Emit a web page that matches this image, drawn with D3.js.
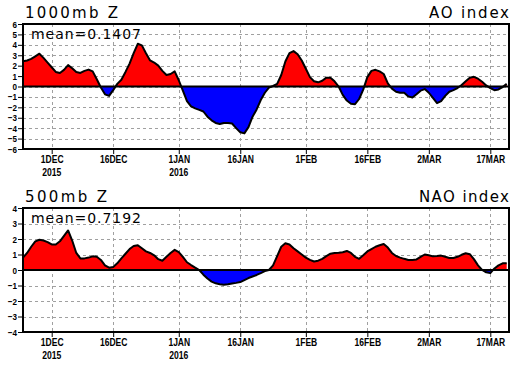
<!DOCTYPE html>
<html><head><meta charset="utf-8">
<script src="https://cdn.jsdelivr.net/npm/d3@7"></script>
<style>
html,body{margin:0;padding:0;background:#fff;}
svg{display:block;}
</style></head>
<body>
<svg id="c" width="518" height="366"></svg>
<script>
// ---- data (daily, starting 24 Nov 2015) ----
const startDate = "2015-11-24";
const aoValues = [
 2.43,2.5,2.65,2.9,3.15,2.75,2.3,1.85,1.4,1.3,1.6,2.05,1.75,1.4,1.3,1.5,1.62,1.45,0.7,-0.1,
 -0.75,-0.9,-0.35,0.25,0.65,1.4,2.2,3.2,4.1,3.95,3.2,2.5,2.3,2.0,1.5,1.1,1.2,1.45,0.6,-0.4,
 -1.4,-1.9,-2.1,-2.25,-2.4,-2.9,-3.25,-3.5,-3.6,-3.5,-3.5,-3.55,-4.0,-4.4,-4.5,-3.9,-2.9,-2.2,-1.3,-0.6,
 -0.1,0.05,0.25,1.1,2.4,3.2,3.4,3.1,2.5,1.7,0.9,0.5,0.4,0.55,0.85,0.85,0.5,0.0,-0.8,-1.35,
 -1.65,-1.7,-1.2,-0.3,0.9,1.5,1.6,1.45,1.2,0.3,-0.2,-0.5,-0.6,-0.6,-0.95,-1.05,-0.75,-0.4,-0.25,-0.6,
 -1.1,-1.6,-1.4,-0.9,-0.5,-0.35,-0.15,0.15,0.5,0.85,0.93,0.75,0.45,0.1,-0.15,-0.35,-0.28,-0.05,0.25
];
const naoValues = [
 0.8,1.1,1.5,1.85,1.95,1.9,1.8,1.65,1.65,1.85,2.2,2.55,1.9,1.1,0.75,0.75,0.8,0.88,0.85,0.65,
 0.3,0.15,0.2,0.43,0.75,1.05,1.35,1.55,1.6,1.4,1.2,1.1,0.95,0.7,0.6,0.85,1.1,1.3,1.15,0.85,
 0.5,0.32,0.15,0.0,-0.3,-0.55,-0.75,-0.86,-0.92,-0.95,-0.92,-0.87,-0.83,-0.78,-0.65,-0.52,-0.42,-0.32,-0.2,-0.07,
 0.0,0.3,0.9,1.5,1.72,1.65,1.4,1.2,1.0,0.8,0.65,0.55,0.6,0.72,0.9,1.05,1.1,1.12,1.15,1.23,
 1.1,0.85,0.72,0.95,1.2,1.35,1.5,1.6,1.68,1.45,1.1,0.9,0.8,0.72,0.65,0.65,0.68,0.85,1.0,0.95,
 0.88,0.9,0.93,0.85,0.78,0.78,0.85,0.98,1.08,1.02,0.7,0.3,0.0,-0.15,-0.2,0.1,0.3,0.43,0.43
];
const tickDates = ["2015-12-01","2015-12-16","2016-01-01","2016-01-16","2016-02-01","2016-02-16","2016-03-02","2016-03-17"];
const tickLabels = ["1DEC","16DEC","1JAN","16JAN","1FEB","16FEB","2MAR","17MAR"];
const tickYears  = ["2015","","2016","","","","",""];
const aoTicks  = [6,5,4,3,2,1,0,-1,-2,-3,-4,-5,-6];
const naoTicks = [4,3,2,1,0,-1,-2,-3,-4];
const panels = [
  {title:"1000mb Z", name:"AO index", mean:"mean=0.1407", values:aoValues, ticks:aoTicks, ymin:-6, ymax:6},
  {title:"500mb Z",  name:"NAO index", mean:"mean=0.7192", values:naoValues, ticks:naoTicks, ymin:-4, ymax:4}
];

// ---- layout ----
const svg = d3.select("#c");
const X0 = 23, X1 = 509;
const boxes = [{top:24,bottom:149},{top:208,bottom:332}];
const parse = d3.utcParse("%Y-%m-%d");
const t0 = parse(startDate);
const tEnd = new Date(t0.getTime() + 118.56*86400000);
const x = d3.scaleUtc().domain([t0, tEnd]).range([X0, X1]);
const tickDts = tickDates.map(parse);
const lblFont = "Liberation Sans, Arial, sans-serif";

function squeeze(sel, f) {
  sel.each(function () {
    const w = this.getComputedTextLength();
    d3.select(this).attr("textLength", w * f).attr("lengthAdjust", "spacingAndGlyphs");
  });
}

panels.forEach((p, i) => {
  const b = boxes[i];
  const y = d3.scaleLinear().domain([p.ymin, p.ymax]).range([b.bottom, b.top]);
  const data = p.values.map((v, k) => ({d: d3.utcDay.offset(t0, k), v}));
  const g = svg.append("g");
  const cid = "clip" + i;
  const defs = svg.append("defs");
  defs.append("clipPath").attr("id", cid + "p").append("rect")
    .attr("x", X0).attr("y", b.top).attr("width", X1 - X0).attr("height", y(0) - b.top);
  defs.append("clipPath").attr("id", cid + "n").append("rect")
    .attr("x", X0).attr("y", y(0)).attr("width", X1 - X0).attr("height", b.bottom - y(0));

  // grid
  g.append("g").selectAll("line").data(p.ticks).join("line")
    .attr("x1", X0).attr("x2", X1).attr("y1", d => Math.round(y(d)) + 0.5).attr("y2", d => Math.round(y(d)) + 0.5)
    .attr("stroke", "#a0a0a0").attr("stroke-width", 1).attr("stroke-dasharray", "3,3");
  g.append("g").selectAll("line").data(tickDts).join("line")
    .attr("x1", d => Math.round(x(d)) + 0.5).attr("x2", d => Math.round(x(d)) + 0.5)
    .attr("y1", b.top).attr("y2", b.bottom)
    .attr("stroke", "#a0a0a0").attr("stroke-width", 1).attr("stroke-dasharray", "3,3");

  const area = d3.area().x(d => x(d.d)).y0(y(0)).y1(d => y(d.v));
  g.append("path").datum(data).attr("d", area).attr("fill", "#ff0000").attr("clip-path", `url(#${cid}p)`);
  g.append("path").datum(data).attr("d", area).attr("fill", "#0000ff").attr("clip-path", `url(#${cid}n)`);
  // zero line
  g.append("line").attr("x1", X0).attr("x2", X1).attr("y1", y(0)).attr("y2", y(0))
    .attr("stroke", "#000").attr("stroke-width", 2);
  // curve
  g.append("path").datum(data).attr("d", d3.line().x(d => x(d.d)).y(d => y(d.v)))
    .attr("fill", "none").attr("stroke", "#000").attr("stroke-width", 2).attr("stroke-linejoin", "round");

  // axes
  const ya = g.append("g").attr("transform", `translate(${X0},0)`)
    .call(d3.axisLeft(y).tickValues(p.ticks).tickSize(5).tickPadding(1).tickFormat(d3.format("d")));
  ya.select(".domain").remove();
  ya.selectAll("line").attr("stroke", "#000").attr("stroke-width", 1);
  ya.selectAll("text").attr("font-family", lblFont)
    .attr("font-size", 9.5).attr("font-weight", "bold").attr("fill", "#000");
  squeeze(ya.selectAll("text"), 0.85);

  const xa = g.append("g").attr("transform", `translate(0,${b.bottom})`)
    .call(d3.axisBottom(x).tickValues(tickDts).tickSize(5).tickPadding(1)
      .tickFormat((d, k) => tickLabels[k]));
  xa.select(".domain").remove();
  xa.selectAll("line").attr("stroke", "#000").attr("stroke-width", 1);
  xa.selectAll("text").attr("font-family", lblFont)
    .attr("font-size", 11.5).attr("font-weight", "bold").attr("fill", "#000");
  squeeze(xa.selectAll("text"), 0.74);
  const yr = g.append("g").selectAll("text").data(tickDts.filter((d, k) => tickYears[k]))
    .join("text")
    .attr("x", d => x(d)).attr("y", b.bottom + 27)
    .attr("text-anchor", "middle")
    .attr("font-family", lblFont)
    .attr("font-size", 11).attr("font-weight", "bold")
    .text(d => tickYears[tickDts.indexOf(d)]);
  squeeze(yr, 0.78);

  // frame
  g.append("rect").attr("x", X0).attr("y", b.top).attr("width", X1 - X0).attr("height", b.bottom - b.top)
    .attr("fill", "none").attr("stroke", "#000").attr("stroke-width", 2);

  // texts
  const font = "DejaVu Sans, sans-serif";
  g.append("text").attr("x", 25).attr("y", b.top - 6).attr("font-family", font)
    .attr("font-size", 15).attr("textLength", i === 0 ? 93 : 82).attr("lengthAdjust", "spacing")
    .text(p.title);
  g.append("text").attr("x", 509).attr("y", b.top - 6).attr("font-family", font)
    .attr("font-size", 15).attr("text-anchor", "end")
    .attr("textLength", i === 0 ? 80 : 90).attr("lengthAdjust", "spacing")
    .text(p.name);
  g.append("text").attr("x", 31).attr("y", b.top + 15).attr("font-family", font)
    .attr("font-size", 14).attr("textLength", 110).attr("lengthAdjust", "spacing")
    .text(p.mean);
});
</script>
</body></html>
